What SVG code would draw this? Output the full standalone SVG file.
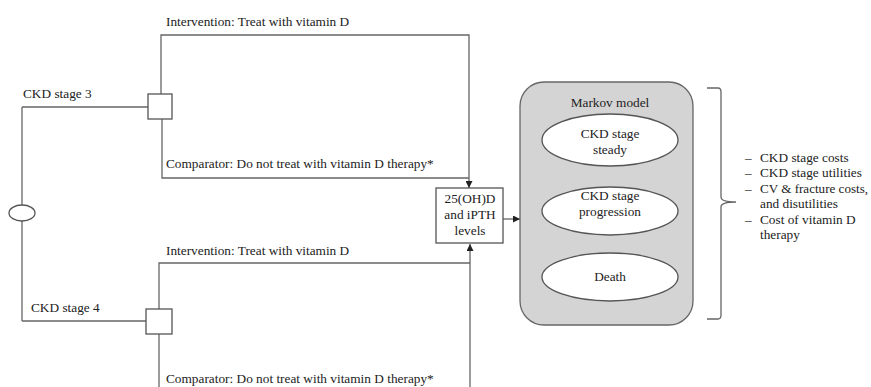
<svg xmlns="http://www.w3.org/2000/svg" width="871" height="387" viewBox="0 0 871 387">
<defs>
<marker id="arr" viewBox="0 0 8 8" refX="8" refY="4" markerWidth="7" markerHeight="7" orient="auto" markerUnits="userSpaceOnUse">
<path d="M0,0 L8,4 L0,8 z" fill="#222"/>
</marker>
</defs>
<style>
text{font-family:"Liberation Serif","Times New Roman",serif;font-size:13.3px;fill:#222}
.c{text-anchor:middle}
.ln{fill:none;stroke:#666;stroke-width:1.3}
.box{fill:#fff;stroke:#555;stroke-width:1.3}
</style>
<rect width="871" height="387" fill="#fff"/>
<g id="connectors">
<path class="ln" d="M22,107 V321"/>
<path class="ln" d="M22,107 H148"/>
<path class="ln" d="M161,94 V35 H469 V188" marker-end="url(#arr)"/>
<path class="ln" d="M162,119 V178 H469"/>
<path class="ln" d="M22,321 H146"/>
<path class="ln" d="M159,309 V263 H470"/>
<path class="ln" d="M159,334 V387"/>
<path class="ln" d="M470,387 V244" marker-end="url(#arr)"/>
<path class="ln" d="M503,219 H520" marker-end="url(#arr)"/>
</g>
<g id="labels">
<text x="166" y="26">Intervention: Treat with vitamin D</text>
<text x="23" y="98">CKD stage 3</text>
<text x="166" y="168">Comparator: Do not treat with vitamin D therapy*</text>
<text x="166" y="255">Intervention: Treat with vitamin D</text>
<text x="31" y="312">CKD stage 4</text>
<text x="166" y="383">Comparator: Do not treat with vitamin D therapy*</text>
</g>
<g id="chance"><ellipse cx="22" cy="213" rx="13" ry="8" class="box"/></g>
<g id="decision3"><rect x="148" y="94" width="24" height="25" class="box"/></g>
<g id="decision4"><rect x="146" y="309" width="26" height="25" class="box"/></g>
<g id="levels">
<rect x="436" y="188" width="67" height="55" class="box"/>
<text class="c" x="470" y="203">25(OH)D</text>
<text class="c" x="470" y="219">and iPTH</text>
<text class="c" x="470" y="235">levels</text>
</g>
<g id="markov">
<rect x="520" y="82" width="173" height="243" rx="24" ry="24" fill="#d4d4d4" stroke="#666" stroke-width="1.3"/>
<text class="c" x="610" y="107">Markov model</text>
</g>
<g id="steady">
<ellipse cx="610" cy="140" rx="68" ry="26" class="box"/>
<text class="c" x="610" y="138">CKD stage</text>
<text class="c" x="610" y="154">steady</text>
</g>
<g id="progression">
<ellipse cx="610" cy="211" rx="68" ry="24" class="box"/>
<text class="c" x="610" y="200">CKD stage</text>
<text class="c" x="610" y="216">progression</text>
</g>
<g id="death">
<ellipse cx="610" cy="277" rx="68" ry="24" class="box"/>
<text class="c" x="610" y="281">Death</text>
</g>
<g id="outcomes">
<path class="ln" d="M707,88 H718 Q721,88 721,92 V197 Q721,202 736,202 Q721,202 721,207 V315 Q721,319 718,319 H707"/>
<text x="745" y="162">–</text><text x="760" y="162">CKD stage costs</text>
<text x="745" y="177">–</text><text x="760" y="177">CKD stage utilities</text>
<text x="745" y="193">–</text><text x="760" y="193" textLength="108" lengthAdjust="spacingAndGlyphs">CV &amp; fracture costs,</text>
<text x="760" y="208">and disutilities</text>
<text x="745" y="224">–</text><text x="760" y="224">Cost of vitamin D</text>
<text x="760" y="239">therapy</text>
</g>
</svg>
